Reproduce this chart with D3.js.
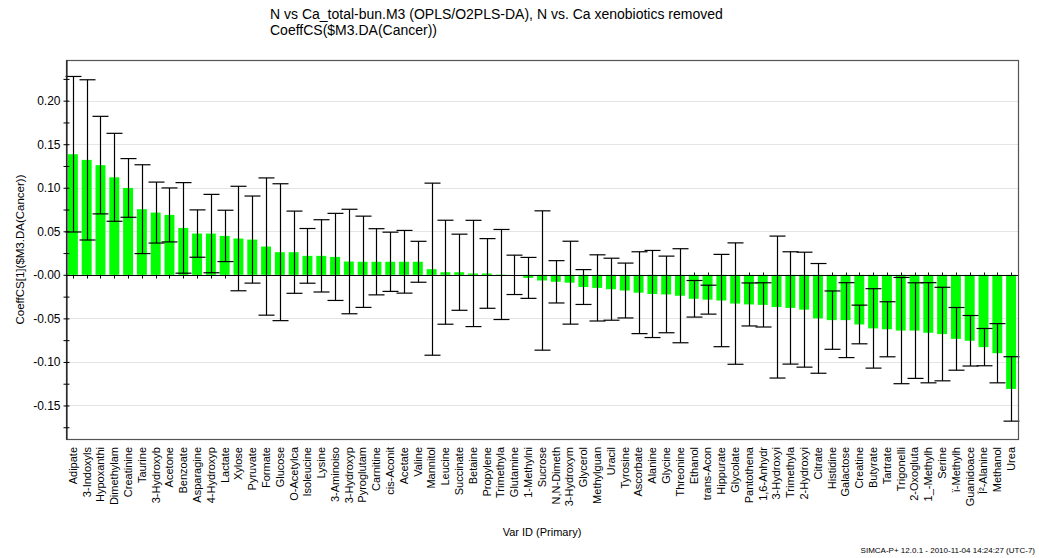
<!DOCTYPE html>
<html>
<head>
<meta charset="utf-8">
<script src="https://cdn.jsdelivr.net/npm/d3@7"></script>
<style>
  html, body { margin: 0; padding: 0; background: #fff; }
  svg { display: block; font-family: "Liberation Sans", Arial, sans-serif; }
</style>
</head>
<body>
<svg id="chart" width="1039" height="558"></svg>
<script>
const categories = ["Adipate","3-Indoxyls","Hypoxanthi","Dimethylam","Creatinine","Taurine","3-Hydroxyb","Acetone","Benzoate","Asparagine","4-Hydroxyp","Lactate","Xylose","Pyruvate","Formate","Glucose","O-Acetylca","Isoleucine","Lysine","3-Aminoiso","3-Hydroxyp","Pyroglutam","Carnitine","cis-Aconit","Acetate","Valine","Mannitol","Leucine","Succinate","Betaine","Propylene","Trimethyla","Glutamine","1-Methylni","Sucrose","N,N-Dimeth","3-Hydroxym","Glycerol","Methylguan","Uracil","Tyrosine","Ascorbate","Alanine","Glycine","Threonine","Ethanol","trans-Acon","Hippurate","Glycolate","Pantothena","1,6-Anhydr","3-Hydroxyi","Trimethyla","2-Hydroxyi","Citrate","Histidine","Galactose","Creatine","Butyrate","Tartrate","Trigonelli","2-Oxogluta","1_-Methylh","Serine","ï-Methylh","Guanidoace","Î²-Alanine","Methanol","Urea"];

const coeffValues = [0.1385,0.132,0.126,0.112,0.0998,0.0754,0.0715,0.0688,0.0539,0.0474,0.0474,0.0447,0.0417,0.0405,0.0325,0.026,0.026,0.0218,0.0218,0.0206,0.0153,0.015,0.015,0.015,0.015,0.015,0.0065,0.003,0.003,0.0016,0.0016,0.0004,0.0,-0.0035,-0.0065,-0.008,-0.009,-0.014,-0.015,-0.0165,-0.018,-0.0205,-0.022,-0.0225,-0.024,-0.0275,-0.0285,-0.0295,-0.033,-0.034,-0.0345,-0.037,-0.038,-0.040,-0.050,-0.052,-0.052,-0.057,-0.0615,-0.0625,-0.064,-0.064,-0.0665,-0.068,-0.0735,-0.0757,-0.083,-0.090,-0.131];

const errorHalfWidths = [0.0893,0.092,0.056,0.0505,0.0337,0.051,0.035,0.031,0.052,0.0272,0.045,0.0295,0.060,0.050,0.0788,0.0786,0.0472,0.0314,0.0415,0.050,0.060,0.0524,0.038,0.034,0.036,0.0235,0.0988,0.0597,0.0437,0.061,0.040,0.0517,0.0226,0.0235,0.080,0.0243,0.0476,0.020,0.038,0.0356,0.0315,0.047,0.050,0.044,0.054,0.021,0.0166,0.053,0.0697,0.0247,0.0254,0.0815,0.0645,0.066,0.063,0.0335,0.043,0.0222,0.0456,0.0316,0.061,0.0549,0.0575,0.0537,0.036,0.029,0.0214,0.034,0.037];

const yTickValues = [-0.175,-0.15,-0.125,-0.10,-0.075,-0.05,-0.025,0,0.025,0.05,0.075,0.10,0.125,0.15,0.175,0.20,0.225];
const yLabelValues = [-0.15,-0.10,-0.05,0,0.05,0.10,0.15,0.20];

const titleLines = ["N vs Ca_total-bun.M3 (OPLS/O2PLS-DA), N vs. Ca xenobiotics removed", "CoeffCS($M3.DA(Cancer))"];
const yAxisTitle = "CoeffCS[1]($M3.DA(Cancer))";
const xAxisTitle = "Var ID (Primary)";
const footerText = "SIMCA-P+ 12.0.1 - 2010-11-04 14:24:27 (UTC-7)";

const svg = d3.select("#chart");
const pL = 66, pR = 1018, pT = 60, pB = 439;

const x = d3.scaleBand().domain(d3.range(categories.length)).range([pL, pR]).paddingInner(0.28).paddingOuter(0.14);
const y = d3.scaleLinear().domain([-0.1885, 0.2467]).range([pB, pT]);

// gridlines
svg.append("g").selectAll("line").data(yLabelValues).join("line")
  .attr("x1", pL).attr("x2", pR)
  .attr("y1", d => Math.round(y(d)) + 0.5).attr("y2", d => Math.round(y(d)) + 0.5)
  .attr("stroke", "#e4e4e4").attr("stroke-width", 1);

// x ticks on zero line (behind bars)
const y0 = Math.round(y(0)) + 0.5;
svg.append("g").selectAll("line").data(d3.range(categories.length)).join("line")
  .attr("x1", d => Math.round(x(d) + x.bandwidth() / 2) + 0.5)
  .attr("x2", d => Math.round(x(d) + x.bandwidth() / 2) + 0.5)
  .attr("y1", y0 - 3).attr("y2", y0 + 3)
  .attr("stroke", "#000");

// bars
svg.append("g").selectAll("rect").data(coeffValues).join("rect")
  .attr("x", (d, i) => x(i))
  .attr("width", x.bandwidth())
  .attr("y", d => y(Math.max(0, d)))
  .attr("height", d => Math.abs(y(d) - y(0)))
  .attr("fill", "#00ff00");

// zero line
svg.append("line").attr("x1", pL).attr("x2", pR).attr("y1", y0).attr("y2", y0).attr("stroke", "#000");

// error bars
const eb = svg.append("g").attr("stroke", "#000").attr("stroke-width", 1.2);
coeffValues.forEach((v, i) => {
  const cx = Math.round(x(i) + x.bandwidth() / 2) + 0.5;
  const yt = y(v + errorHalfWidths[i]), yb = y(v - errorHalfWidths[i]);
  eb.append("line").attr("x1", cx).attr("x2", cx).attr("y1", yt).attr("y2", yb);
  eb.append("line").attr("x1", cx - 8).attr("x2", cx + 8).attr("y1", yt).attr("y2", yt);
  eb.append("line").attr("x1", cx - 8).attr("x2", cx + 8).attr("y1", yb).attr("y2", yb);
});

// frame
svg.append("rect").attr("x", pL + 0.5).attr("y", pT + 0.5).attr("width", pR - pL).attr("height", pB - pT)
  .attr("fill", "none").attr("stroke", "#555").attr("stroke-width", 1.2);

// y axis
const fmt = d => d === 0 ? "-0.00" : (d < 0 ? "-" : "") + Math.abs(d).toFixed(2);
const yAxis = d3.axisLeft(y).tickValues(yTickValues).tickSize(3).tickSizeOuter(0)
  .tickFormat(d => yLabelValues.some(v => Math.abs(v - d) < 1e-9) ? fmt(d) : "");
const ga = svg.append("g").attr("transform", `translate(${pL + 0.5},0)`).call(yAxis);
ga.select(".domain").attr("stroke", "#000");
ga.selectAll(".tick line").attr("x1", 3).attr("x2", -3).attr("stroke", "#000");
ga.selectAll(".tick text").attr("x", -6).attr("font-size", 12).attr("font-family", "Liberation Sans, Arial, sans-serif").attr("fill", "#000");

// x labels
const xAxis = d3.axisBottom(x).tickSize(0).tickFormat(i => categories[i]);
const gx = svg.append("g").attr("transform", `translate(0,${pB + 8})`).call(xAxis);
gx.select(".domain").remove();
gx.selectAll(".tick text")
  .attr("transform", "rotate(-90)")
  .attr("text-anchor", "end")
  .attr("x", 0).attr("y", 0).attr("dy", "0.35em")
  .attr("font-size", 11).attr("font-family", "Liberation Sans, Arial, sans-serif").attr("fill", "#000");

// titles
const tt = svg.append("text").attr("x", 270).attr("y", 19).attr("font-size", 14).attr("fill", "#000");
titleLines.forEach((t, i) => tt.append("tspan").attr("x", 270).attr("y", 19 + i * 16).text(t));

svg.append("text").attr("transform", `translate(24,${(pT + pB) / 2}) rotate(-90)`)
  .attr("text-anchor", "middle").attr("font-size", 11.5).attr("fill", "#000").text(yAxisTitle);

svg.append("text").attr("x", (pL + pR) / 2).attr("y", 536).attr("text-anchor", "middle")
  .attr("font-size", 11).attr("fill", "#000").text(xAxisTitle);

svg.append("text").attr("x", 1035).attr("y", 553).attr("text-anchor", "end")
  .attr("font-size", 8).attr("fill", "#000").text(footerText);
</script>
</body>
</html>
